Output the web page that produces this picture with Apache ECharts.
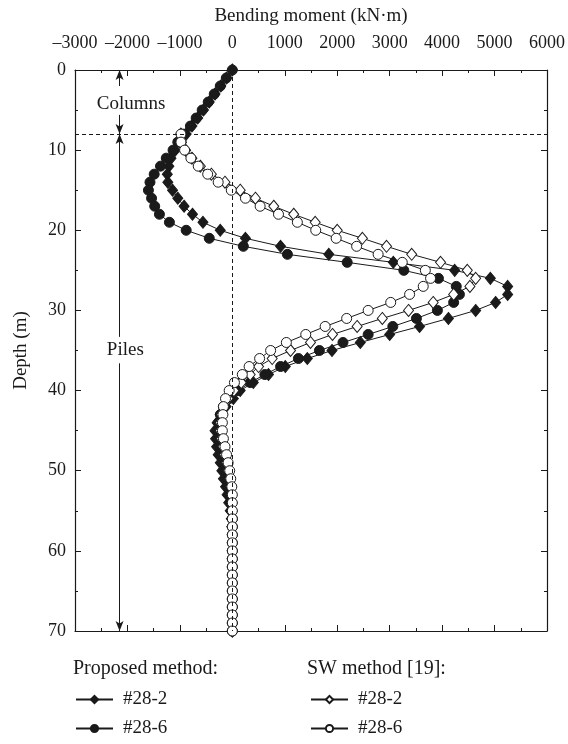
<!DOCTYPE html>
<html>
<head>
    <meta charset="UTF-8">
    <title>Bending moment vs depth</title>
    <script type="text/javascript" src="https://cdn.jsdelivr.net/npm/echarts@6/dist/echarts.min.js"></script>
</head>
<body style="margin: 0;padding: 0;">
    <div id="container" style="width:568px; height:744px;"></div>
    <script>
        // depth (m) of the computed points
        var depthProp = [0, 1, 2, 3, 4, 5, 6, 7, 8, 9, 10, 11, 12, 13, 14, 15, 16, 17, 18, 19, 20,
            21, 22, 23, 24, 25, 26, 27, 28, 29, 30, 31, 32, 33, 34, 35, 36, 37, 38, 39, 40,
            41, 42, 43, 44, 45, 46, 47, 48, 49, 50, 51, 52, 53, 54, 55, 56, 57, 58, 59, 60,
            61, 62, 63, 64, 65, 66, 67, 68, 69, 70];
        var depthSW = [8, 9, 10, 11, 12, 13, 14, 15, 16, 17, 18, 19, 20,
            21, 22, 23, 24, 25, 26, 27, 28, 29, 30, 31, 32, 33, 34, 35, 36, 37, 38, 39, 40,
            41, 42, 43, 44, 45, 46, 47, 48, 49, 50, 51, 52, 53, 54, 55, 56, 57, 58, 59, 60,
            61, 62, 63, 64, 65, 66, 67, 68, 69, 70];

        // bending moment (kN·m), proposed method
        var prop28_2 = [0, -110, -220, -330, -440, -550, -660, -770, -880, -990, -1090,
            -1170, -1210, -1240, -1230, -1140, -1040, -920, -760, -560, -230,
            250, 920, 1840, 3070, 4240, 4920, 5250, 5250, 5020, 4640,
            4120, 3570, 3000, 2440, 1900, 1430, 1010, 690, 400, 150,
            20, -120, -230, -290, -330, -320, -300, -270, -230, -200,
            -170, -130, -100, -70, -40, -20, -10, 0, 0, 0,
            0, 0, 0, 0, 0, 0, 0, 0, 0, 0];
        var prop28_6 = [0, -115, -230, -345, -460, -575, -690, -800, -930, -1040, -1130,
            -1260, -1370, -1490, -1570, -1600, -1540, -1480, -1390, -1200, -880,
            -440, 210, 1050, 2190, 3270, 3930, 4270, 4330, 4220, 3910,
            3510, 3060, 2590, 2110, 1660, 1260, 920, 620, 340, 110,
            -60, -170, -230, -260, -270, -260, -240, -210, -170, -130,
            -100, -70, -40, -20, -10, 0, 0, 0, 0, 0,
            0, 0, 0, 0, 0, 0, 0, 0, 0, 0];

        // bending moment (kN·m), SW method [19]
        var sw28_2 = [-980, -970, -890, -770, -610, -400, -140, 150, 440, 790, 1170, 1580, 2000,
            2480, 2940, 3420, 3970, 4480, 4640, 4530, 4220, 3830, 3360,
            2860, 2380, 1910, 1490, 1110, 760, 500, 340, 170, 30,
            -80, -160, -210, -230, -230, -210, -180, -150, -110, -80,
            -50, -30, -10, 0, 0, 0, 0, 0, 0, 0,
            0, 0, 0, 0, 0, 0, 0, 0, 0, 0];
        var sw28_6 = [-980, -980, -910, -790, -650, -470, -270, -20, 250, 530, 880, 1240, 1590,
            1980, 2370, 2780, 3240, 3680, 3780, 3640, 3380, 3020, 2590,
            2180, 1770, 1400, 1030, 730, 520, 320, 190, 40, -60,
            -130, -170, -180, -190, -190, -170, -140, -110, -80, -50,
            -30, -10, 0, 0, 0, 0, 0, 0, 0, 0,
            0, 0, 0, 0, 0, 0, 0, 0, 0, 0];

        var seriesNames = ['Proposed #28-2', 'Proposed #28-6', 'SW #28-2', 'SW #28-6'];
        var pileX = -2150;

        var font = "'Liberation Serif', 'DejaVu Serif', serif";
        var ink = '#1a1a1a';

        function pairs(moments, depths) {
            return moments.map(function (m, i) { return [m, depths[i]]; });
        }

        function makeSeries(name, data, symbol, filled, size) {
            return {
                name: name,
                type: 'line',
                data: data,
                symbol: symbol,
                symbolSize: size,
                showAllSymbol: true,
                animation: false,
                lineStyle: { color: ink, width: 1 },
                itemStyle: {
                    color: filled ? ink : '#fff',
                    borderColor: ink,
                    borderWidth: 1
                }
            };
        }

        var chart = echarts.init(document.getElementById('container'), null, { renderer: 'canvas' });

        var tickStyle = { show: true, inside: true, length: 6, lineStyle: { color: ink, width: 1 } };
        var minorStyle = { show: true, splitNumber: 2, length: 3, lineStyle: { color: ink, width: 1 } };
        var lineStyle = { show: true, onZero: false, lineStyle: { color: ink, width: 1.2 } };

        var annot = {
            name: 'annot',
            type: 'line',
            data: [],
            animation: false,
            markLine: {
                silent: true,
                animation: false,
                symbol: ['none', 'none'],
                label: { show: false },
                lineStyle: { color: ink, width: 1, type: [4, 3] },
                data: [
                    { xAxis: 0 },
                    { yAxis: 8 }
                ]
            }
        };
        var arrows = {
            name: 'arrows',
            type: 'line',
            data: [],
            animation: false,
            markLine: {
                silent: true,
                animation: false,
                symbol: ['none', 'arrow'],
                symbolSize: [6, 10],
                label: { show: false },
                lineStyle: { color: ink, width: 1, type: 'solid' },
                data: [
                    [{ coord: [pileX, 2] }, { coord: [pileX, 0] }],
                    [{ coord: [pileX, 5.6] }, { coord: [pileX, 8] }],
                    [{ coord: [pileX, 33.3] }, { coord: [pileX, 8] }],
                    [{ coord: [pileX, 36.6] }, { coord: [pileX, 70] }]
                ]
            },
            markPoint: {
                silent: true,
                animation: false,
                symbolSize: 0,
                label: {
                    show: true, position: 'inside', color: ink,
                    fontFamily: font, fontSize: 19,
                    formatter: function (p) { return p.name; }
                },
                data: [
                    { name: 'Columns', coord: [-1930, 4.2] },
                    { name: 'Piles', coord: [-2040, 35] }
                ]
            }
        };

        var legendCommon = {
            orient: 'vertical',
            top: 690,
            height: 60,
            itemWidth: 37,
            itemHeight: 9,
            itemGap: 10,
            padding: 0,
            selectedMode: false,
            textStyle: { fontFamily: font, fontSize: 19, lineHeight: 19, color: ink, padding: [0, 0, 0, 5] },
            formatter: function (name) { return name.split(' ')[1]; }
        };

        var option = {
            backgroundColor: '#fff',
            animation: false,
            textStyle: { fontFamily: font },
            title: [
                { text: 'Proposed method:', left: 73, top: 659, padding: 0,
                  textStyle: { fontFamily: font, fontSize: 20, fontWeight: 'normal', color: ink } },
                { text: 'SW method [19]:', left: 307, top: 659, padding: 0,
                  textStyle: { fontFamily: font, fontSize: 20, fontWeight: 'normal', color: ink } }
            ],
            legend: [
                Object.assign({}, legendCommon, { left: 75, data: seriesNames.slice(0, 2) }),
                Object.assign({}, legendCommon, { left: 310, data: seriesNames.slice(2, 4) })
            ],
            grid: { left: 75, right: 21, top: 70, bottom: 113 },
            xAxis: [{
                type: 'value', position: 'top',
                min: -3000, max: 6000, interval: 1000,
                name: 'Bending moment (kN·m)', nameLocation: 'middle', nameGap: 44,
                nameTextStyle: { fontFamily: font, fontSize: 19, color: ink },
                axisLine: lineStyle, axisTick: tickStyle, minorTick: minorStyle,
                splitLine: { show: false },
                axisLabel: {
                    fontFamily: font, fontSize: 18, color: ink, margin: 18,
                    formatter: function (v) { return String(v).replace('-', '\u2013'); }
                }
            }, {
                type: 'value', position: 'bottom',
                min: -3000, max: 6000, interval: 1000,
                axisLine: lineStyle, axisTick: tickStyle, minorTick: minorStyle,
                splitLine: { show: false }, axisLabel: { show: false }
            }],
            yAxis: [{
                type: 'value', position: 'left', inverse: true,
                min: 0, max: 70, interval: 10,
                name: 'Depth (m)', nameLocation: 'middle', nameGap: 44, nameRotate: 90,
                nameTextStyle: { fontFamily: font, fontSize: 19, color: ink },
                axisLine: lineStyle, axisTick: tickStyle, minorTick: minorStyle,
                splitLine: { show: false },
                axisLabel: { fontFamily: font, fontSize: 18, color: ink, margin: 9 }
            }, {
                type: 'value', position: 'right', inverse: true,
                min: 0, max: 70, interval: 10,
                axisLine: lineStyle, axisTick: tickStyle, minorTick: minorStyle,
                splitLine: { show: false }, axisLabel: { show: false }
            }],
            series: [
                annot,
                arrows,
                makeSeries(seriesNames[0], pairs(prop28_2, depthProp), 'diamond', true, [10, 12]),
                makeSeries(seriesNames[1], pairs(prop28_6, depthProp), 'circle', true, 10),
                makeSeries(seriesNames[2], pairs(sw28_2, depthSW), 'diamond', false, [10, 12]),
                makeSeries(seriesNames[3], pairs(sw28_6, depthSW), 'circle', false, 10)
            ]
        };
        chart.setOption(option);
    </script>
</body>
</html>
